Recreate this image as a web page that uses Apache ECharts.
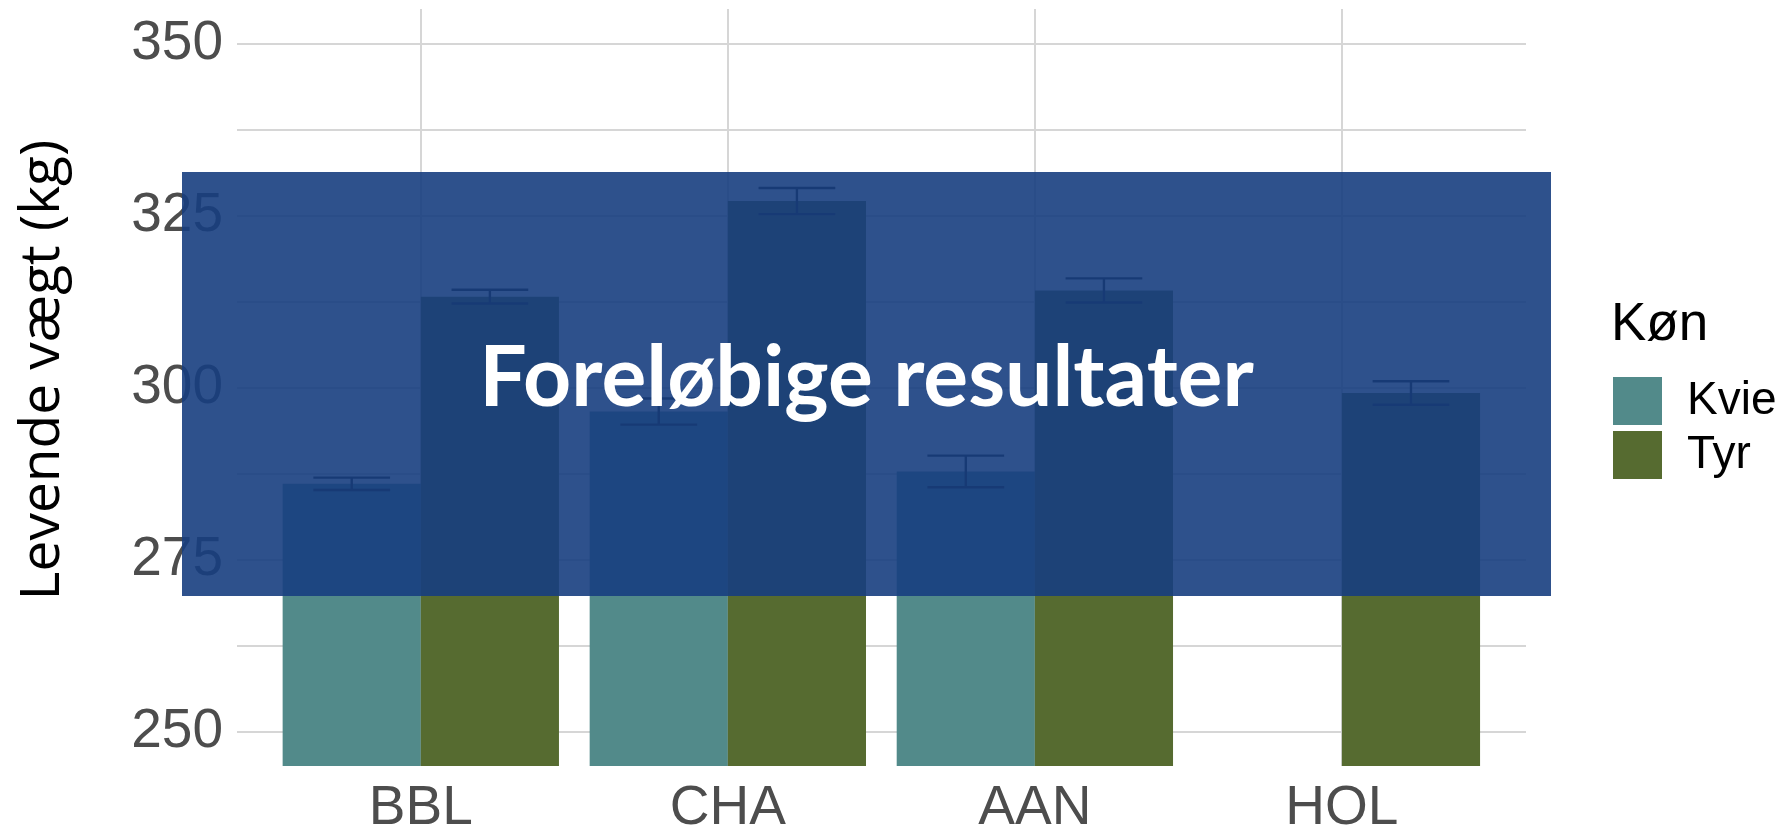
<!DOCTYPE html>
<html>
<head>
<meta charset="utf-8">
<script src="https://cdn.jsdelivr.net/npm/echarts@6/dist/echarts.min.js"></script>
<style>
html,body{margin:0;padding:0;background:#fff;}
#chart{width:1788px;height:827px;}
</style>
</head>
<body>
<div id="chart"></div>
<script>
// ---- data ----
const categories = ['BBL', 'CHA', 'AAN', 'HOL'];
const kvieMean = [286.0, 296.5, 287.8, null];
const kvieSE   = [0.9, 1.9, 2.3, null];
const tyrMean  = [313.2, 327.1, 314.1, 299.2];
const tyrSE    = [1.0, 1.9, 1.75, 1.7];
const yTickLabels = [250, 275, 300, 325, 350];
const gridValuesY = [250, 262.5, 275, 287.5, 300, 312.5, 325, 337.5, 350];
const seriesNames = ['Kvie', 'Tyr'];
const legendTitle = 'Køn';
const yTitle = 'Levende vægt (kg)';
const watermark = 'Foreløbige resultater';

// ---- layout ----
const W = 1788, H = 827;
const panelL = 237, panelR = 1526, panelT = 9, panelB = 766;
const band = (panelR - panelL) / (categories.length + 1.2);
const yMin = 245, yMax = 355;
const gridColor = '#d6d6d6';
const tickFont = 'Liberation Sans, Arial, sans-serif';

function errData(means, ses) {
  const out = [];
  means.forEach((m, i) => { if (m != null) out.push([i, m - ses[i], m + ses[i]]); });
  return out;
}
function errRender(offset) {
  return function (params, api) {
    const i = api.value(0);
    const lo = api.coord([i, api.value(1)]);
    const hi = api.coord([i, api.value(2)]);
    const bw = api.size([1, 0])[0];
    const x = lo[0] + offset * bw;
    const hw = 0.125 * bw;
    const st = { stroke: '#161616', lineWidth: 2.4 };
    return {
      type: 'group',
      children: [
        { type: 'line', shape: { x1: x, y1: lo[1], x2: x, y2: hi[1] }, style: st },
        { type: 'line', shape: { x1: x - hw, y1: lo[1], x2: x + hw, y2: lo[1] }, style: st },
        { type: 'line', shape: { x1: x - hw, y1: hi[1], x2: x + hw, y2: hi[1] }, style: st }
      ]
    };
  };
}

const chart = echarts.init(document.getElementById('chart'), null, { renderer: 'canvas', width: W, height: H });

const option = {
  animation: false,
  backgroundColor: '#ffffff',
  title: {
    text: legendTitle, left: 1611, top: 299, padding: 0,
    textStyle: { fontFamily: tickFont, fontSize: 53, fontWeight: 'normal', color: '#000' }
  },
  legend: {
    data: seriesNames, orient: 'vertical', left: 1613, top: 377, padding: 0,
    itemWidth: 49, itemHeight: 48, itemGap: 6, icon: 'rect',
    textStyle: { fontFamily: tickFont, fontSize: 46, color: '#000', padding: [0, 0, 0, 20] }
  },
  grid: [
    { left: panelL, right: W - panelR, top: panelT, bottom: H - panelB,
      containLabel: false, outerBoundsMode: 'none' },
    { left: panelL + 0.1 * band + 5.5, right: W - panelR + 0.1 * band + 5.8, top: panelT, bottom: H - panelB,
      containLabel: false, outerBoundsMode: 'none' }
  ],
  xAxis: [
    { gridIndex: 0, type: 'value', min: -0.6, max: categories.length - 0.4, show: false },
    {
      gridIndex: 1, type: 'category', data: categories,
      axisLine: { show: false }, axisTick: { show: false }, splitLine: { show: false },
      axisLabel: { fontFamily: tickFont, fontSize: 55, color: '#4d4d4d', margin: 15 }
    }
  ],
  yAxis: [
    {
      gridIndex: 0, type: 'value', min: yMin, max: yMax, interval: 5,
      axisLine: { show: false }, axisTick: { show: false }, splitLine: { show: false },
      axisLabel: {
        fontFamily: tickFont, fontSize: 55, color: '#4d4d4d', margin: 14,
        formatter: v => (yTickLabels.indexOf(v) >= 0 ? String(v) : '')
      }
    },
    { gridIndex: 1, type: 'value', min: yMin, max: yMax, show: false }
  ],
  series: [
    {
      name: 'gridH', type: 'line', xAxisIndex: 0, yAxisIndex: 0, data: [], silent: true, z: 0,
      markLine: {
        silent: true, symbol: 'none', label: { show: false }, z: 0,
        lineStyle: { color: gridColor, width: 2, type: 'solid' },
        data: gridValuesY.map(v => ({ yAxis: v }))
      }
    },
    {
      name: 'gridV', type: 'line', xAxisIndex: 1, yAxisIndex: 1, data: [], silent: true, z: 0,
      markLine: {
        silent: true, symbol: 'none', label: { show: false }, z: 0,
        lineStyle: { color: gridColor, width: 2, type: 'solid' },
        data: categories.map(c => ({ xAxis: c }))
      }
    },
    {
      name: seriesNames[0], type: 'bar', xAxisIndex: 1, yAxisIndex: 1, z: 3,
      data: kvieMean, barWidth: '45%', barGap: '0%',
      itemStyle: { color: '#528a8a' }
    },
    {
      name: seriesNames[1], type: 'bar', xAxisIndex: 1, yAxisIndex: 1, z: 3,
      data: tyrMean, barWidth: '45%', barGap: '0%',
      itemStyle: { color: '#566b30' }
    },
    {
      name: 'errKvie', type: 'custom', xAxisIndex: 1, yAxisIndex: 1, z: 6,
      data: errData(kvieMean, kvieSE), renderItem: errRender(-0.225)
    },
    {
      name: 'errTyr', type: 'custom', xAxisIndex: 1, yAxisIndex: 1, z: 6,
      data: errData(tyrMean, tyrSE), renderItem: errRender(0.225)
    }
  ],
  graphic: [
    {
      type: 'text', x: 43, y: 370, rotation: Math.PI / 2,
      style: {
        text: yTitle, fill: '#000', font: '400 55px "Open Sans", Lato, sans-serif',
        align: 'center', verticalAlign: 'middle'
      }
    },
    {
      type: 'rect', z: 100, shape: { x: 182, y: 172, width: 1369, height: 424 },
      style: { fill: 'rgba(23,62,128,0.9)' }
    },
    {
      type: 'text', z: 101, x: 866.5, y: 379,
      style: {
        text: watermark, fill: '#ffffff', font: '700 84px Lato, "Open Sans", sans-serif',
        align: 'center', verticalAlign: 'middle'
      }
    }
  ]
};
chart.setOption(option);
</script>
</body>
</html>
